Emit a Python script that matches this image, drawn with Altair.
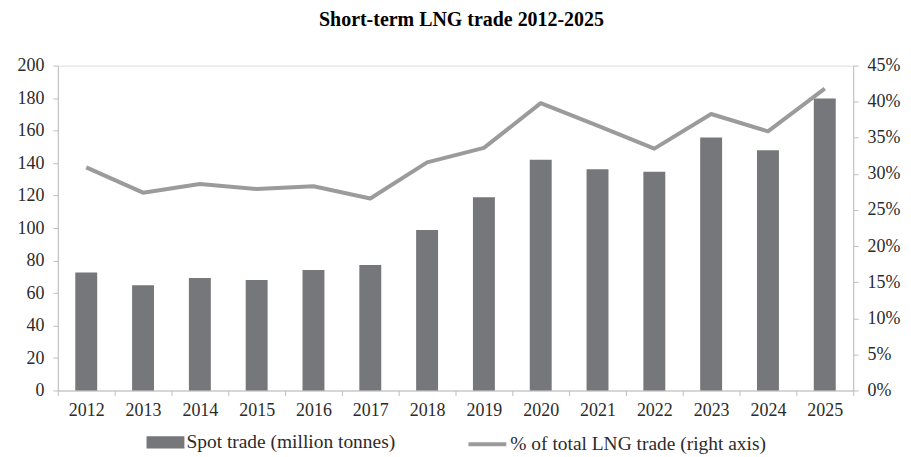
import altair as alt
import pandas as pd

years = ["2012", "2013", "2014", "2015", "2016", "2017", "2018",
         "2019", "2020", "2021", "2022", "2023", "2024", "2025"]
spot_trade = [72.6, 64.8, 69.3, 68.1, 74.2, 77.3, 98.8,
              119.0, 142.1, 136.2, 134.6, 155.8, 147.9, 179.8]
share_pct = [0.309, 0.274, 0.286, 0.279, 0.283, 0.266, 0.316,
             0.336, 0.398, 0.367, 0.335, 0.383, 0.359, 0.418]
left_ticks = [0, 20, 40, 60, 80, 100, 120, 140, 160, 180, 200]
right_ticks = [0, 0.05, 0.10, 0.15, 0.20, 0.25, 0.30, 0.35, 0.40, 0.45]

BAR_LABEL = "Spot trade (million tonnes)"
LINE_LABEL = "% of total LNG trade (right axis)"
BAR_COLOR = "#76777a"
LINE_COLOR = "#9b9b9b"
AXIS_COLOR = "#bfbfbf"
TEXT_COLOR = "#2b2b2b"
FONT = "Liberation Serif"

df = pd.DataFrame({"year": years, "spot": spot_trade, "share": share_pct})

base = alt.Chart(df)

x_enc = alt.X(
    "year:N",
    sort=years,
    scale=alt.Scale(paddingInner=0, paddingOuter=0),
    axis=alt.Axis(
        title=None, labelAngle=0, tickBand="extent", tickSize=5,
        labelPadding=6, labelFontSize=18, labelFont=FONT,
        labelColor=TEXT_COLOR, domainColor=AXIS_COLOR, tickColor=AXIS_COLOR,
        grid=False,
    ),
)

bars = base.transform_calculate(series=f"'{BAR_LABEL}'").mark_bar(size=22).encode(
    x=x_enc,
    y=alt.Y(
        "spot:Q",
        scale=alt.Scale(domain=[0, 200], nice=False),
        axis=alt.Axis(
            title=None, values=left_ticks, tickSize=5, labelPadding=9,
            labelFontSize=18, labelFont=FONT, labelColor=TEXT_COLOR,
            domainColor=AXIS_COLOR, tickColor=AXIS_COLOR, grid=False,
        ),
    ),
    fill=alt.Fill(
        "series:N",
        scale=alt.Scale(domain=[BAR_LABEL], range=[BAR_COLOR]),
        legend=alt.Legend(
            title=None, orient="none", legendX=89, legendY=359,
            symbolType="M-1,-0.32H1V0.32H-1Z", symbolSize=1444,
            symbolStrokeWidth=0, labelFontSize=19.5, labelFont=FONT,
            labelColor=TEXT_COLOR, labelOffset=2, padding=0, labelLimit=500,
        ),
    ),
)

line = base.transform_calculate(series=f"'{LINE_LABEL}'").mark_line(
    strokeWidth=4, strokeJoin="round"
).encode(
    x=x_enc,
    y=alt.Y(
        "share:Q",
        scale=alt.Scale(domain=[0, 0.45], nice=False),
        axis=alt.Axis(
            title=None, orient="right", values=right_ticks, format=".0%",
            tickSize=5, labelPadding=9, labelFontSize=18, labelFont=FONT,
            labelColor=TEXT_COLOR, domainColor=AXIS_COLOR,
            tickColor=AXIS_COLOR, grid=False,
        ),
    ),
    stroke=alt.Stroke(
        "series:N",
        scale=alt.Scale(domain=[LINE_LABEL], range=[LINE_COLOR]),
        legend=alt.Legend(
            title=None, orient="none", legendX=410, legendY=359,
            symbolType="stroke", symbolSize=1444, symbolStrokeWidth=4,
            labelFontSize=19.5, labelFont=FONT, labelColor=TEXT_COLOR,
            labelOffset=2, padding=0, labelLimit=500,
        ),
    ),
)

chart = alt.layer(bars, line).resolve_scale(y="independent").properties(
    width=798,
    height=326,
    title=alt.TitleParams(
        "Short-term LNG trade 2012-2025", font=FONT, fontSize=20,
        fontWeight="bold", color="black", offset=27, anchor="middle", dx=6,
    ),
    autosize=alt.AutoSizeParams(type="none"),
    padding={"left": 50, "top": 57, "right": 50, "bottom": 90},
).configure_view(stroke=None).configure(background="white")

chart.save("out.html", embed_options={"renderer": "svg", "actions": False})
